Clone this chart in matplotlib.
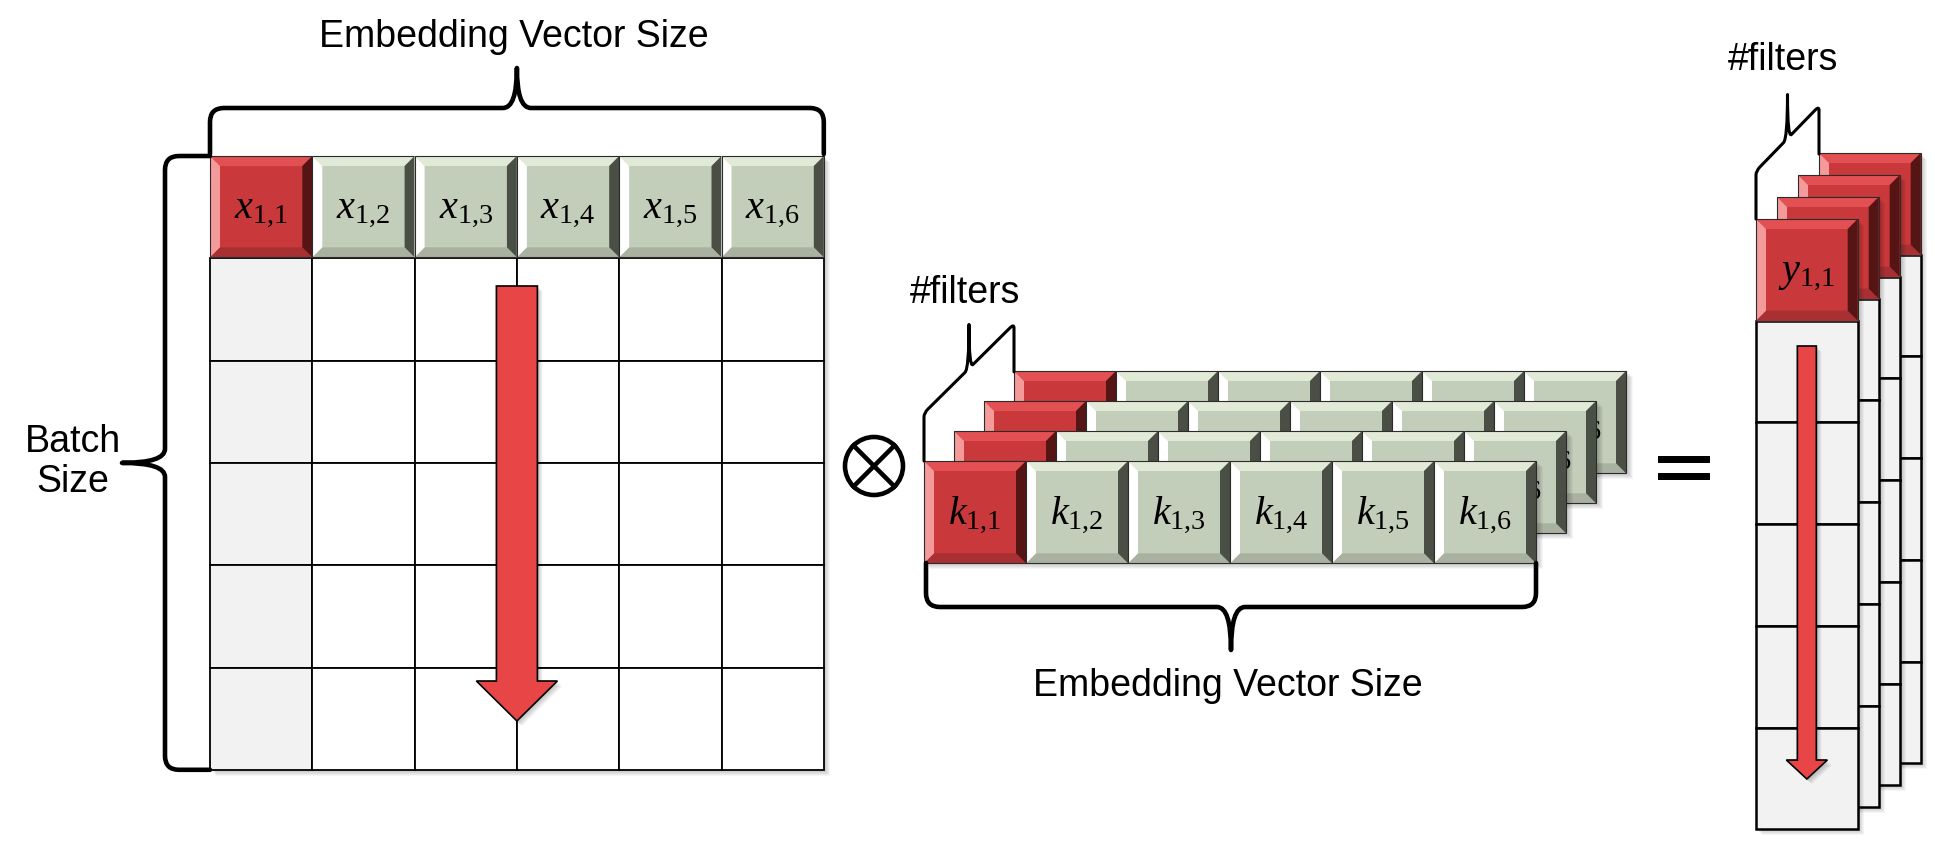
import matplotlib
matplotlib.use('Agg')
import matplotlib.pyplot as plt
from matplotlib.patches import Rectangle, Polygon, Circle, PathPatch
from matplotlib.path import Path

plt.rcParams['font.family'] = ['Liberation Sans', 'DejaVu Sans']
plt.rcParams['mathtext.fontset'] = 'custom'
plt.rcParams['mathtext.rm'] = 'Liberation Serif'
plt.rcParams['mathtext.it'] = 'Liberation Serif:italic'

# diagram content
input_labels = ['$x_{1{,}1}$', '$x_{1{,}2}$', '$x_{1{,}3}$', '$x_{1{,}4}$', '$x_{1{,}5}$', '$x_{1{,}6}$']
kernel_labels = ['$k_{1{,}1}$', '$k_{1{,}2}$', '$k_{1{,}3}$', '$k_{1{,}4}$', '$k_{1{,}5}$', '$k_{1{,}6}$']
output_label = '$y_{1{,}1}$'
batch_rows = 5
n_filters = 4
size_text = 'Embedding Vector Size'
batch_text = 'Batch\nSize'
filters_text = '#filters'

# colours: face, top bevel, left bevel, right bevel, bottom bevel
RED = ('#C9383A', '#E25053', '#F59A9A', '#561515', '#A93032')
GREEN = ('#C3CEBA', '#E0EAD7', '#FFFFFF', '#4A4F45', '#A9B2A0')
ARROW = '#E84646'
PALE = '#F2F2F2'

CELL = 102.3


def shadow(ax, x, y, w, h, z, off=6):
    for i in range(1, off + 1):
        ax.add_patch(Rectangle((x + i, y + i), w, h, fc='black', ec='none',
                               alpha=0.04, zorder=z))


def bevel_cell(ax, x, y, w, h, pal, z, b=10):
    face, top, left, right, bottom = pal
    ax.add_patch(Rectangle((x, y), w, h, fc=face, ec='none', zorder=z))
    ax.add_patch(Polygon([(x, y), (x + w, y), (x + w - b, y + b), (x + b, y + b)],
                         fc=top, ec='none', zorder=z))
    ax.add_patch(Polygon([(x, y + h), (x + w, y + h), (x + w - b, y + h - b), (x + b, y + h - b)],
                         fc=bottom, ec='none', zorder=z))
    ax.add_patch(Polygon([(x, y), (x + b, y + b), (x + b, y + h - b), (x, y + h)],
                         fc=left, ec='none', zorder=z))
    ax.add_patch(Polygon([(x + w, y), (x + w - b, y + b), (x + w - b, y + h - b), (x + w, y + h)],
                         fc=right, ec='none', zorder=z))
    ax.add_patch(Rectangle((x, y), w, h, fc='none', ec='#2b2b2b', lw=0.8, zorder=z))


def down_arrow(ax, cx, y0, y1, shaft_w, head_w, head_len, z):
    pts = [(cx - shaft_w / 2, y0), (cx + shaft_w / 2, y0),
           (cx + shaft_w / 2, y1 - head_len), (cx + head_w / 2, y1 - head_len),
           (cx, y1), (cx - head_w / 2, y1 - head_len),
           (cx - shaft_w / 2, y1 - head_len)]
    for i in range(1, 6):
        ax.add_patch(Polygon([(px + i, py + i) for px, py in pts], fc='black', ec='none',
                             alpha=0.05, zorder=z))
    ax.add_patch(Polygon(pts, fc=ARROW, ec='black', lw=1.2, zorder=z, joinstyle='miter'))


def brace(ax, tf, L, h, t, r, lw):
    m = L / 2
    local = [(0, 0), (0, h - r), (0, h), (r, h),
             (m - r, h), (m, h), (m, t),
             (m, h), (m + r, h),
             (L - r, h), (L, h), (L, h - r), (L, 0)]
    codes = [Path.MOVETO, Path.LINETO, Path.CURVE3, Path.CURVE3,
             Path.LINETO, Path.CURVE3, Path.CURVE3,
             Path.CURVE3, Path.CURVE3,
             Path.LINETO, Path.CURVE3, Path.CURVE3, Path.LINETO]
    verts = [tf(u, v) for u, v in local]
    ax.add_patch(PathPatch(Path(verts, codes), fc='none', ec='black', lw=lw,
                           capstyle='round', joinstyle='round', zorder=60))


fig = plt.figure(figsize=(19.35, 8.43), dpi=100)
ax = fig.add_axes([0, 0, 1, 1])
ax.set_xlim(0, 1935)
ax.set_ylim(843, 0)
ax.axis('off')

# ---- input matrix ----
mx, my = 210, 156
n_cols = len(input_labels)
shadow(ax, mx, my, CELL * n_cols, CELL * (batch_rows + 1), 1)
for r in range(batch_rows):
    for j in range(n_cols):
        ax.add_patch(Rectangle((mx + j * CELL, my + (r + 1) * CELL), CELL, CELL,
                               fc=PALE if j == 0 else 'white', ec='black', lw=1.3, zorder=2))
for j, lab in enumerate(input_labels):
    bevel_cell(ax, mx + j * CELL, my, CELL, CELL - 1, RED if j == 0 else GREEN, 3)
    ax.text(mx + (j + 0.5) * CELL, my + CELL / 2 + 3, lab, fontsize=29,
            ha='center', va='center', zorder=4)
down_arrow(ax, mx + 3 * CELL, 286, 721, 41, 81, 40, 5)

brace(ax, lambda u, v: (mx + u, 154 - v), CELL * n_cols, 46, 86, 14, 3.3)
brace(ax, lambda u, v: (mx - v, my + u), CELL * (batch_rows + 1), 45, 88, 14, 3.3)
ax.text(514, 37, size_text, fontsize=27, ha='center', va='center')
ax.text(73, 462, batch_text, fontsize=27, ha='center', va='center', linespacing=1.15)

# ---- operator ----
ax.add_patch(Circle((874, 466), 29, fc='none', ec='black', lw=3.3, zorder=10))
d = 29 * 0.7071
ax.plot([874 - d, 874 + d], [466 - d, 466 + d], color='black', lw=3.3, zorder=10)
ax.plot([874 - d, 874 + d], [466 + d, 466 - d], color='black', lw=3.3, zorder=10)

# ---- kernel stack (every filter carries the same labels, the back ones are hidden) ----
kx, ky, kstep = 924, 461, 30
for f in range(n_filters - 1, -1, -1):
    z = 10 + (n_filters - f) * 3
    x0, y0 = kx + f * kstep, ky - f * kstep
    shadow(ax, x0, y0, CELL * n_cols - 1, CELL, z)
    for j, lab in enumerate(kernel_labels):
        bevel_cell(ax, x0 + j * 102, y0, 102, CELL, RED if j == 0 else GREEN, z + 1)
        ax.text(x0 + (j + 0.5) * 102, y0 + CELL / 2 + 2, lab, fontsize=29,
                ha='center', va='center', zorder=z + 1)

span = (n_filters - 1) * kstep
brace(ax, lambda u, v: (kx + u, ky - v - u * 0.99), span, 48, 92, 4, 2.2)
brace(ax, lambda u, v: (926 + u, 563 + v), 610, 44, 87, 14, 3.3)
ax.text(965, 293, filters_text, fontsize=27, ha='center', va='center')
ax.text(1228, 686, size_text, fontsize=27, ha='center', va='center')

# ---- equals ----
ax.add_patch(Rectangle((1658, 456), 52, 7, fc='black', ec='none'))
ax.add_patch(Rectangle((1658, 472.5), 52, 7, fc='black', ec='none'))

# ---- output stack ----
ox, oy, odx, ody, oc = 1756, 219, 21, 22, 101.7
for f in range(n_filters - 1, -1, -1):
    z = 30 + (n_filters - f) * 3
    x0, y0 = ox + f * odx, oy - f * ody
    shadow(ax, x0, y0, oc, oc * (batch_rows + 1), z)
    for r in range(batch_rows):
        ax.add_patch(Rectangle((x0, y0 + (r + 1) * oc), oc, oc, fc=PALE, ec='black',
                               lw=1.8, zorder=z + 1))
    bevel_cell(ax, x0, y0, oc, oc, RED, z + 1)
ax.text(ox + oc / 2, oy + oc / 2 + 3, output_label, fontsize=29, ha='center', va='center',
        zorder=50)
down_arrow(ax, ox + oc / 2, 346, 779, 19, 41, 19, 50)
brace(ax, lambda u, v: (ox + u, oy - v - u * 1.03), (n_filters - 1) * odx, 48, 92, 4, 2.2)
ax.text(1783, 60, filters_text, fontsize=27, ha='center', va='center')

fig.savefig('out.png', dpi=100, facecolor='white')
